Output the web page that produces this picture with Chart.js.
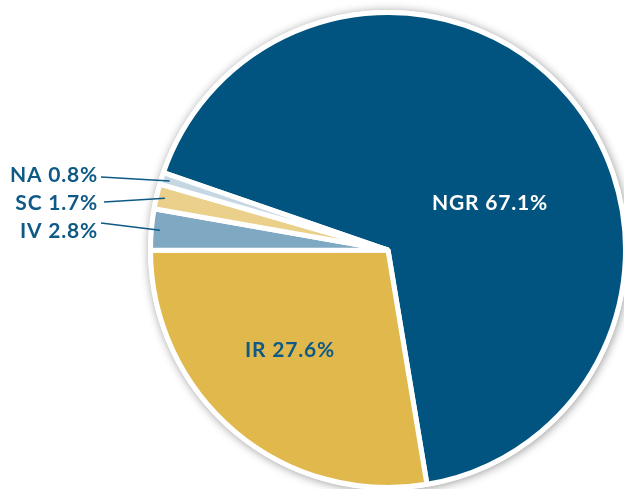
<!DOCTYPE html>
<html>
<head>
<meta charset="utf-8">
<script src="https://cdn.jsdelivr.net/npm/chart.js@4.4.0/dist/chart.umd.min.js"></script>
<style>
  html, body { margin: 0; padding: 0; background: #ffffff; }
  #wrap { width: 624px; height: 489px; position: relative; }
</style>
</head>
<body>
<div id="wrap"><canvas id="c" width="624" height="489"></canvas></div>
<script>
// ---- data ----
const categories = ["NGR", "IR", "IV", "SC", "NA"];
const shares = [67.1, 27.6, 2.8, 1.7, 0.8];
const sliceColors = ["#00547f", "#e1b84b", "#7fa8c3", "#ead08b", "#c6d7e4"];
const labelTexts = categories.map((c, i) => c + " " + shares[i].toFixed(1) + "%");

// ---- label layout (text placement only) ----
const textColor = "#0e5985";
const insideLabels = { 0: { x: 490, y: 203, color: "#ffffff" }, 1: { x: 290, y: 350, color: textColor } };
const outsideLabels = { 4: { x: 98, y: 175, lx: 101, ly: 177 }, 3: { x: 98, y: 203, lx: 104, ly: 202 }, 2: { x: 98, y: 231, lx: 101, ly: 223 } };
const labelFont = "bold 21px Lato";
const labelSpacing = "0.8px";

const shadowPlugin = {
  id: "shadowPlugin",
  beforeDatasetsDraw(chart) {
    const arc = chart.getDatasetMeta(0).data[0];
    if (!arc) return;
    const ctx = chart.ctx;
    ctx.save();
    ctx.beginPath();
    ctx.arc(arc.x, arc.y, arc.outerRadius + 2.5, 0, Math.PI * 2);
    ctx.fillStyle = "#ffffff";
    ctx.shadowColor = "rgba(0,0,0,0.40)";
    ctx.shadowBlur = 10;
    ctx.shadowOffsetX = 1;
    ctx.shadowOffsetY = 1;
    ctx.fill();
    ctx.restore();
  }
};

const labelPlugin = {
  id: "labelPlugin",
  afterDatasetsDraw(chart) {
    const ctx = chart.ctx;
    const arcs = chart.getDatasetMeta(0).data;
    ctx.save();
    ctx.font = labelFont;
    if ("letterSpacing" in ctx) ctx.letterSpacing = labelSpacing;
    ctx.textBaseline = "middle";
    arcs.forEach((arc, i) => {
      if (insideLabels[i]) {
        const L = insideLabels[i];
        ctx.fillStyle = L.color;
        ctx.textAlign = "center";
        ctx.fillText(labelTexts[i], L.x, L.y);
      } else if (outsideLabels[i]) {
        const L = outsideLabels[i];
        const mid = (arc.startAngle + arc.endAngle) / 2;
        const r = arc.outerRadius - 8.5;
        const ex = arc.x + Math.cos(mid) * r;
        const ey = arc.y + Math.sin(mid) * r;
        ctx.strokeStyle = textColor;
        ctx.lineWidth = 1.5;
        ctx.beginPath();
        ctx.moveTo(L.lx, L.ly);
        ctx.lineTo(ex, ey);
        ctx.stroke();
        ctx.fillStyle = textColor;
        ctx.textAlign = "right";
        ctx.fillText(labelTexts[i], L.x, L.y);
      }
    });
    ctx.restore();
  }
};

new Chart(document.getElementById("c"), {
  type: "pie",
  data: {
    labels: categories,
    datasets: [{
      data: shares,
      backgroundColor: sliceColors,
      borderColor: "#ffffff",
      borderWidth: 5,
      hoverOffset: 0
    }]
  },
  options: {
    responsive: false,
    devicePixelRatio: 1,
    animation: false,
    rotation: -71,
    radius: 237.5,
    layout: { padding: { left: 152, right: 0, top: 11, bottom: 0 } },
    plugins: {
      legend: { display: false },
      tooltip: { enabled: false },
      title: { display: false }
    }
  },
  plugins: [shadowPlugin, labelPlugin]
});
</script>
</body>
</html>
